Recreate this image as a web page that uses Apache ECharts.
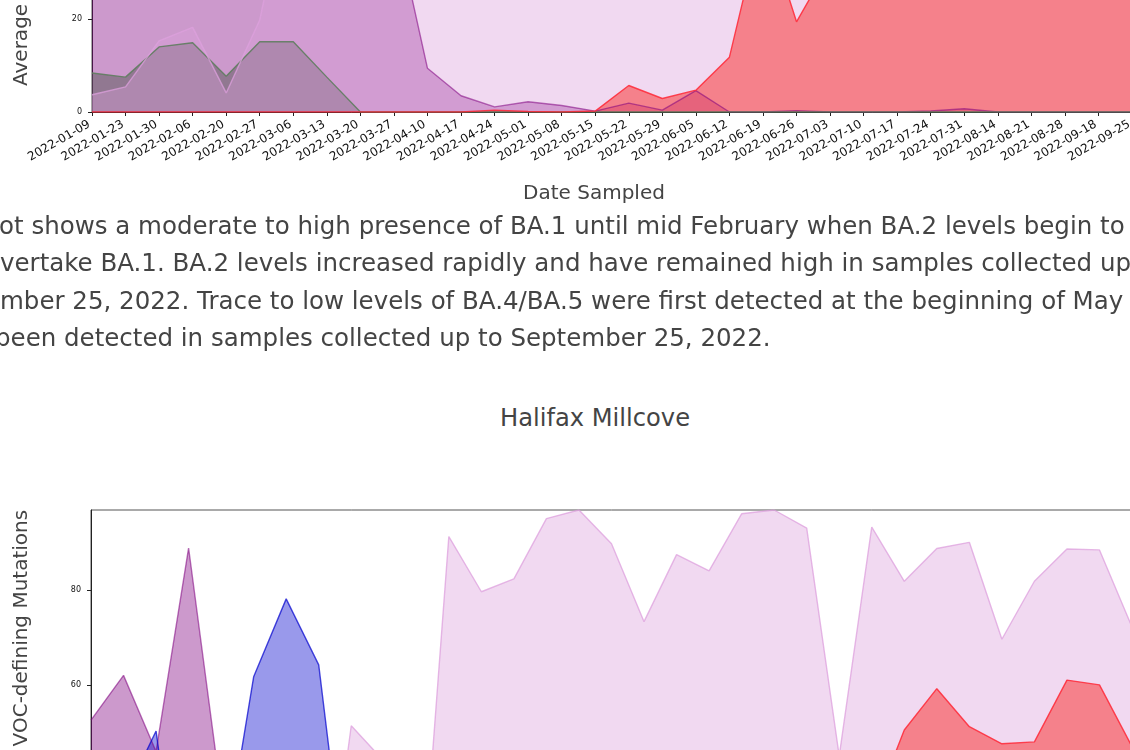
<!DOCTYPE html>
<html>
<head>
<meta charset="utf-8">
<script src="https://cdn.jsdelivr.net/npm/echarts@6/dist/echarts.min.js"></script>
<style>
html, body { margin: 0; padding: 0; width: 1130px; height: 750px; overflow: hidden; background: #fff; font-family: 'DejaVu Sans', sans-serif; }
#chart1 { position: absolute; left: 0; top: -400px; width: 1200px; height: 620px; }
#chart2 { position: absolute; left: 0; top: 460px; width: 1200px; height: 620px; }
.txt { position: absolute; color: #444; white-space: nowrap; }
#xname { left: 0; width: 1188px; text-align: center; top: 182px; font-size: 20px; line-height: 20px; }
#para { left: 0; top: 207px; font-size: 24.5px; line-height: 37.3px; }
#para div { position: relative; white-space: nowrap; }
#title { left: 0; width: 1190px; text-align: center; top: 406px; font-size: 24.2px; line-height: 24px; }
</style>
</head>
<body>
<div id="chart1"></div>
<div id="chart2"></div>
<div id="xname" class="txt">Date Sampled</div>
<div id="para" class="txt">
  <div style="left:-1px">ot shows a moderate to high presence of BA.1 until mid February when BA.2 levels begin to</div>
  <div style="left:0px">vertake BA.1. BA.2 levels increased rapidly and have remained high in samples collected up</div>
  <div style="left:0px">mber 25, 2022. Trace to low levels of BA.4/BA.5 were first detected at the beginning of May</div>
  <div style="left:-5px">been detected in samples collected up to September 25, 2022.</div>
</div>
<div id="title" class="txt">Halifax Millcove</div>
<script>
// first site (only lower part visible)
var dates1 = ['2022-01-09','2022-01-23','2022-01-30','2022-02-06','2022-02-20','2022-02-27','2022-03-06','2022-03-13',
  '2022-03-20','2022-03-27','2022-04-10','2022-04-17','2022-04-24','2022-05-01','2022-05-08','2022-05-15',
  '2022-05-22','2022-05-29','2022-06-05','2022-06-12','2022-06-19','2022-06-26','2022-07-03','2022-07-10',
  '2022-07-17','2022-07-24','2022-07-31','2022-08-14','2022-08-21','2022-08-28','2022-09-18','2022-09-25'];
var ba1_1 = [88, 86, 80, 78, 84, 72, 66, 60, 52, 42, 9.4, 3.5, 1.1, 2.2, 1.4, 0.2, 1.9, 0.4, 4.6, 0, 0, 0.3, 0, 0, 0, 0.2, 0.7, 0, 0, 0, 0, 0];
var delta1 = [8.4, 7.5, 14, 14.9, 7.7, 15.1, 15.1, 7.5, 0, 0, 0, 0, 0, 0, 0, 0, 0, 0, 0, 0, 0, 0, 0, 0, 0, 0, 0, 0, 0, 0, 0, 0];
var ba2_1 = [3.7, 5.4, 15.3, 18.2, 4.1, 19.8, 54, 72, 84, 90, 94, 96, 97, 96, 95, 96, 94, 93, 92, 88, 82, 70, 74, 80, 84, 86, 88, 85, 87, 86, 84, 85];
var ba45_1 = [0, 0, 0, 0, 0, 0, 0, 0, 0, 0, 0, 0, 0.4, 0.1, 0, 0.2, 5.7, 2.9, 4.7, 11.8, 42, 19.4, 32, 48, 55, 60, 63, 66, 68, 70, 72, 71];

// Halifax Millcove (only upper part visible)
var dates2 = ['2022-01-04','2022-01-11','2022-01-18','2022-01-25','2022-02-01','2022-02-08','2022-02-15','2022-02-22',
  '2022-03-01','2022-03-08','2022-03-15','2022-03-22','2022-03-29','2022-04-05','2022-04-12','2022-04-19',
  '2022-04-26','2022-05-03','2022-05-10','2022-05-17','2022-05-24','2022-05-31','2022-06-07','2022-06-14',
  '2022-06-21','2022-06-28','2022-07-05','2022-07-12','2022-07-19','2022-07-26','2022-08-02','2022-08-09','2022-08-16'];
var ba1_2 = [52.6, 62, 46, 88.8, 37, 18, 8, 4, 2, 0, 0, 0, 0, 0, 0, 0, 0, 0, 0, 0, 0, 0, 0, 0, 0, 0, 0, 0, 0, 0, 0, 0, 0];
var ba11_2 = [30, 36, 50.3, 0, 20, 61.7, 78.1, 64.2, 8, 0, 0, 0, 0, 0, 0, 0, 0, 0, 0, 0, 0, 0, 0, 0, 0, 0, 0, 0, 0, 0, 0, 0, 0];
var ba2_2 = [0, 0, 0, 10, 18, 26, 14, 0, 51.4, 44, 0, 91.2, 79.6, 82.3, 95, 96.8, 89.7, 73.3, 87.4, 84, 96, 96.8, 93, 45, 93.2, 81.8, 88.7, 90, 69.6, 81.8, 88.6, 88.4, 72.2];
var ba45_2 = [0, 0, 0, 0, 0, 0, 0, 0, 0, 0, 0, 0, 0, 0, 0, 0, 0, 0, 0, 0, 0, 0, 0, 10, 33, 50.5, 59.2, 51.2, 47.6, 48, 61, 60, 47];

var yTicks = [0, 20, 40, 60, 80, 100];
var yName = 'Average Frequency of VOC-defining Mutations';

var colPurple = { line: 'rgba(128,0,128,0.55)', fill: 'rgba(128,0,128,0.4)' };
var colGray = { line: 'rgba(95,125,95,0.9)', fill: 'rgba(88,88,88,0.5)' };
var colPlum = { line: 'rgba(221,160,221,0.75)', fill: 'rgba(221,160,221,0.4)' };
var colRed = { line: 'rgba(255,40,55,0.85)', fill: 'rgba(249,41,37,0.5)' };
var colBlue = { line: 'rgba(0,0,205,0.7)', fill: 'rgba(0,0,205,0.4)' };

function area(name, data, col) {
  return {
    name: name, type: 'line', data: data, symbol: 'none', silent: true,
    lineStyle: { color: col.line, width: 1.4 },
    areaStyle: { color: col.fill, opacity: 1 }
  };
}

function xAxis(cats) {
  return {
    type: 'category', data: cats, boundaryGap: false,
    axisLine: { lineStyle: { color: '#222', width: 1 } },
    axisTick: { length: 4, lineStyle: { color: '#222' } },
    axisLabel: { interval: 0, rotate: 30, margin: 10, padding: [0, 3, 0, 0], color: '#111', fontSize: 12, fontFamily: 'DejaVu Sans' },
    splitLine: { show: false }
  };
}

function yAxis(max) {
  return {
    type: 'value', min: 0, max: max,
    axisLine: { show: true, lineStyle: { color: '#222', width: 1 } },
    axisTick: { show: true, length: 4, customValues: yTicks.slice(0, 5), lineStyle: { color: '#222' } },
    axisLabel: { customValues: yTicks.slice(0, 5), margin: 10, color: '#111', fontSize: 8, fontFamily: 'DejaVu Sans' },
    splitLine: { show: false }
  };
}

var chart1 = echarts.init(document.getElementById('chart1'));
chart1.setOption({
  animation: false,
  grid: { left: 92, right: 68, top: 47, bottom: 108, show: true, borderColor: '#555', borderWidth: 1 },
  xAxis: xAxis(dates1),
  yAxis: yAxis(yTicks[yTicks.length - 1]),
  graphic: [{
    type: 'text', x: 32, y: 486, rotation: Math.PI / 2,
    style: { text: yName, font: '20px "DejaVu Sans"', fill: '#444', align: 'left', verticalAlign: 'bottom' }
  }],
  series: [
    area('BA.1', ba1_1, colPurple),
    area('Delta', delta1, colGray),
    area('BA.2', ba2_1, colPlum),
    area('BA.4/BA.5', ba45_1, colRed)
  ]
});

var chart2 = echarts.init(document.getElementById('chart2'));
chart2.setOption({
  animation: false,
  grid: { left: 91, right: 68, top: 50, bottom: 110, show: true, borderColor: '#555', borderWidth: 1 },
  xAxis: xAxis(dates2),
  yAxis: yAxis('dataMax'),
  graphic: [{
    type: 'text', x: 32, y: 280, rotation: Math.PI / 2,
    style: { text: yName, font: '20px "DejaVu Sans"', fill: '#444', align: 'center', verticalAlign: 'bottom' }
  }],
  series: [
    area('BA.1', ba1_2, colPurple),
    area('BA.1.1', ba11_2, colBlue),
    area('BA.2', ba2_2, colPlum),
    area('BA.4/BA.5', ba45_2, colRed)
  ]
});
</script>
</body>
</html>
